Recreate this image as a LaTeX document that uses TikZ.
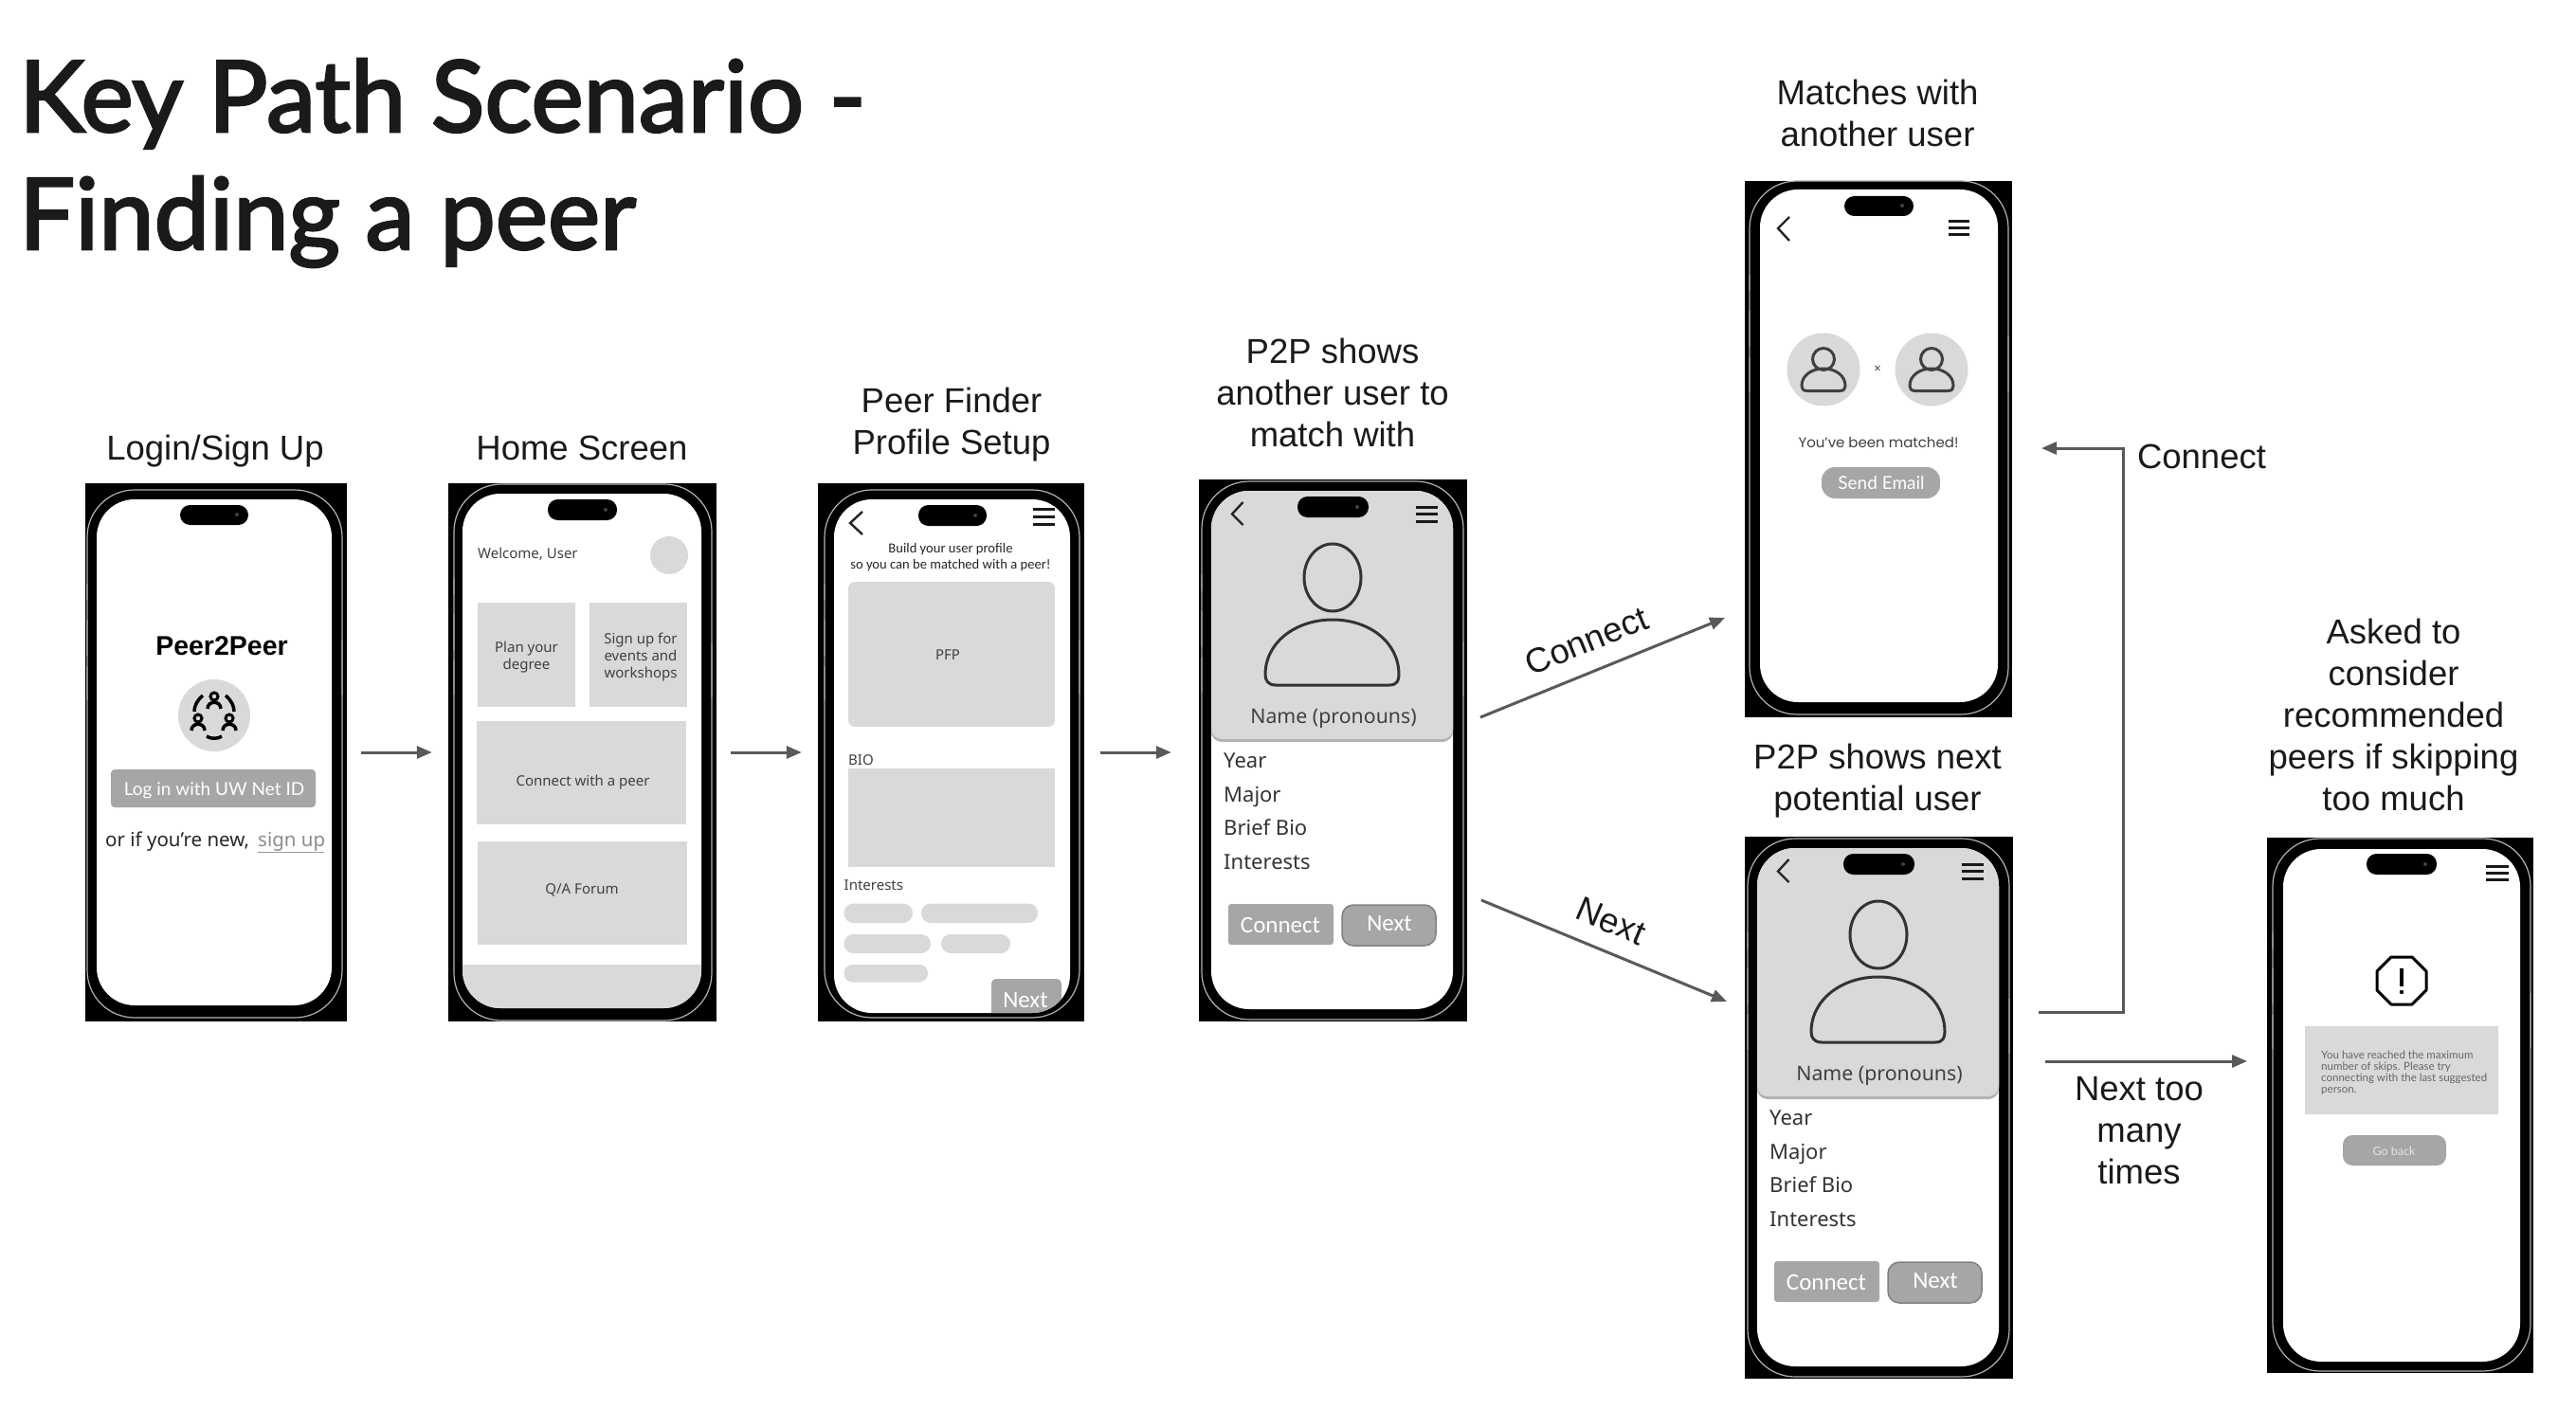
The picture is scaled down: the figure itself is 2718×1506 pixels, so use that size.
\documentclass[tikz,border=0pt]{standalone}
\usepackage{fontspec}
\setmainfont{Liberation Sans}
\newfontfamily\uifont{Noto Sans}
\newfontfamily\carl{Carlito}
\newfontfamily\lat{Lato}
\newfontfamily\pop{Poppins}
\newfontfamily\titlefont[FakeBold=2.5]{Lato}
\usetikzlibrary{arrows.meta,fit,calc}
\definecolor{tile}{HTML}{D9D9D9}
\definecolor{btn}{HTML}{A6A6A6}
\definecolor{arrowc}{HTML}{595959}
\definecolor{labelc}{HTML}{1A1A1A}
\newcommand\fsz[1]{\fontsize{#1}{#1}\selectfont}
\tikzset{
  x=1pt,y=-1pt,
  flow/.style={draw=arrowc,line width=3pt,-{Triangle[length=16pt,width=13pt]}},
  caption/.style={align=center,text=labelc,inner sep=0pt,font=\fontsize{36.5}{44}\selectfont},
  uitext/.style={inner sep=0pt,text=black!75,font=\uifont\fsz{15}},
  rowtext/.style={inner sep=0pt,anchor=base west,text=black!80,font=\uifont\fsz{22}},
  whitebtn/.style={inner sep=0pt,text=white,font=\carl\fsz{25}},
}
% name, frame corners, bezel corners, screen corners
\newcommand\phone[7]{%
  \node[fit={(#2)(#3)},inner sep=0pt,fill=black] (#1) {};
  \draw[black!30,line width=1.2pt,rounded corners=50pt] (#4) rectangle (#5);
  \draw[black!45,line width=2pt] ($(#4)+(0,99)$) -- ($(#4)+(0,116)$) ($(#4)+(0,137)$) -- ($(#4)+(0,175)$) ($(#4)+(0,186)$) -- ($(#4)+(0,222)$) ($(#5)+(0,-399)$) -- ($(#5)+(0,-341)$);
  \fill[white,rounded corners=40pt] (#6) rectangle (#7);
}
\newcommand\island[2]{%
  \fill[black,rounded corners=10.5pt] (#1) rectangle (#2);
  \fill[black!75] ($(#2)+(-12,-11)$) circle (2pt);
}
\newcommand\chevron[3]{\draw[black!85,line width=2.4pt,line join=miter] (#1) -- (#2) -- (#3);}
% x1, x2, y1, y2, y3
\newcommand\burger[5]{\draw[black!90,line width=3pt] (#1,#3) -- (#2,#3) (#1,#4) -- (#2,#4) (#1,#5) -- (#2,#5);}
% prefix: the profile card screen, in the coordinates of the first one
\newcommand\profile[1]{%
  \phone{#1}{1265,506}{1548,1078}{1268,508}{1544,1076}{1278,518}{1533,1065}
  \begin{scope}
    \clip[rounded corners=40pt] (1278,518) rectangle (1533,1065);
    \fill[black!30,rounded corners=11pt] (1278,480) rectangle (1533,783);
    \fill[tile,rounded corners=11pt] (1278,480) rectangle (1533,780);
  \end{scope}
  \island{1369,524}{1444,546}
  \chevron{1311.5,530}{1300,542.5}{1311.5,554}
  \burger{1494}{1517}{535}{542.5}{550}
  \draw[black!80,line width=3pt] (1406,609.5) ellipse (30pt and 35.5pt);
  \draw[black!80,line width=3pt,line join=round] (1346,723) -- (1466,723)
     .. controls (1474,723) and (1476,718) .. (1476,712)
     .. controls (1476,678) and (1445,654) .. (1406,654)
     .. controls (1367,654) and (1335,678) .. (1335,712)
     .. controls (1335,718) and (1338,723) .. (1346,723) -- cycle;
  \node[uitext,font=\uifont\fsz{21.3}] (#1name) at (1407,758) {Name (pronouns)};
  \node[rowtext] (#1year) at (1291,810) {Year};
  \node[rowtext] (#1major) at (1291,846) {Major};
  \node[rowtext] (#1bio) at (1291,881) {Brief Bio};
  \node[rowtext] (#1int) at (1291,917) {Interests};
  \fill[btn,rounded corners=3pt] (1296,954) rectangle (1407,997);
  \node[whitebtn] (#1conn) at (1351,976) {Connect};
  \filldraw[fill=btn,draw=black!50,line width=1.5pt,rounded corners=12pt] (1416,955) rectangle (1515,998);
  \node[whitebtn] (#1next) at (1466,975) {Next};
}
\newcommand\smallperson[1]{%
  \begin{scope}[shift={(#1,390)}]
    \fill[tile] (0,0) circle (38.5pt);
    \draw[black!75,line width=3pt] (0,-11) circle (11.5pt);
    \draw[black!75,line width=3pt,line join=round] (-17,22.5) -- (17,22.5)
      .. controls (22,22.5) and (23,20) .. (23,17)
      .. controls (23,6) and (12,-1) .. (0,-1)
      .. controls (-12,-1) and (-23,6) .. (-23,17)
      .. controls (-23,20) and (-22,22.5) .. (-17,22.5) -- cycle;
  \end{scope}%
}
\newcommand\tinyperson[2]{%
  \draw[black,line width=3pt] (#1,#2) circle (4pt);
  \draw[black,line width=3.5pt] ($(#1,#2)+(-7,13)$) .. controls ($(#1,#2)+(-7,4)$) and ($(#1,#2)+(7,4)$) .. ($(#1,#2)+(7,13)$);
}
\begin{document}
\begin{tikzpicture}
\useasboundingbox (0,0) rectangle (2718,1506);
\fill[white] (0,0) rectangle (2718,1506);

% title
\node[anchor=base west,inner sep=0pt,text=labelc,font=\titlefont\fsz{104.5}] (title1) at (20,139) {Key Path Scenario -};
\node[anchor=base west,inner sep=0pt,text=labelc,font=\titlefont\fsz{104.5}] (title2) at (20,263) {Finding a peer};

% captions
\node[caption] (capa) at (227,476) {Login/Sign Up};
\node[caption] (capb) at (614,473) {Home Screen};
\node[caption] (capc) at (1004,448) {Peer Finder\\Profile Setup};
\node[caption] (capd) at (1406,414) {P2P shows\\another user to\\match with};
\node[caption] (cape) at (1981,119) {Matches with\\another user};
\node[caption] (capf) at (1981,824) {P2P shows next\\potential user};
\node[caption] (capg) at (2525.5,754) {Asked to\\consider\\recommended\\peers if skipping\\too much};

% phone 1
\phone{pa}{90,510}{366,1078}{92,517}{361,1074}{102,527}{350,1061}
\island{190,533}{262,554}
\node[inner sep=0pt,text=black,font=\bfseries\fsz{28.5}] (logo) at (234,682) {Peer2Peer};
\fill[tile] (226,755) circle (38pt);
\tinyperson{226}{735}
\tinyperson{209}{758}
\tinyperson{242}{758}
\draw[black,line width=3.5pt] (205,751) .. controls (205,745) and (208,739) .. (214,734);
\draw[black,line width=3.5pt] (247,751) .. controls (247,745) and (244,739) .. (238,734);
\draw[black,line width=3.5pt] (218,777) .. controls (222,780) and (230,780) .. (234,777);
\fill[btn,rounded corners=4pt] (117,812) rectangle (333,852);
\node[inner sep=0pt,text=white,font=\lat\fsz{19}] (login) at (226,834) {Log in with UW Net ID};
\node[anchor=base west,inner sep=0pt,text=black!85,font=\uifont\fsz{20.5}] (orif) at (111,893) {or if you’re new,};
\node[anchor=base west,inner sep=0pt,text=black!45,font=\uifont\fsz{20.5}] (signup) at (272,893) {sign up};
\draw[black!40,line width=1pt] (signup.base west)++(0,6) -- ++(70,0);

% phone 2
\phone{pb}{473,510}{756,1078}{479,511}{751,1077}{488,521}{740,1064}
\begin{scope}
  \clip[rounded corners=40pt] (488,521) rectangle (740,1064);
  \fill[tile] (488,1018) rectangle (740,1064);
\end{scope}
\island{578,527}{651,549}
\node[uitext,anchor=west] (welcome) at (504,585) {Welcome, User};
\fill[tile] (706,586) circle (20pt);
\fill[tile] (504,636) rectangle (607,746);
\fill[tile] (622,636) rectangle (725,746);
\fill[tile] (503,761) rectangle (724,870);
\fill[tile] (504,888) rectangle (725,997);
\node[uitext,align=center,font=\uifont\fontsize{15}{18}\selectfont] (plan) at (555.5,694) {Plan your\\degree};
\node[uitext,align=center,font=\uifont\fontsize{15}{18}\selectfont] (events) at (676,694) {Sign up for\\events and\\workshops};
\node[uitext] (connectpeer) at (615,826) {Connect with a peer};
\node[uitext] (forum) at (614,939) {Q/A Forum};

% phone 3
\phone{pc}{863,510}{1144,1078}{870,517}{1139,1074}{880,527}{1129,1069}
\begin{scope}
  \clip[rounded corners=40pt] (880,527) rectangle (1129,1069);
  \fill[btn,rounded corners=5pt] (1046,1033) rectangle (1120,1090);
\end{scope}
\island{969,533}{1041,555}
\chevron{910,540}{897,552}{910,564}
\burger{1090}{1113}{537}{545}{553}
\node[inner sep=0pt,align=center,text=black!85,font=\carl\fontsize{14.6}{17}\selectfont] (build) at (1003,588.5) {Build your user profile\\so you can be matched with a peer!};
\fill[tile,rounded corners=7pt] (895,614) rectangle (1113,767);
\node[uitext] (pfp) at (1000,691) {PFP};
\node[uitext,anchor=west] (biolabel) at (895,802) {BIO};
\fill[tile] (895,811) rectangle (1113,915);
\node[uitext,anchor=west] (interests) at (890.5,934) {Interests};
\fill[tile,rounded corners=10pt] (890.5,953.5) rectangle (963,974);
\fill[tile,rounded corners=10pt] (972,953.5) rectangle (1095,974);
\fill[tile,rounded corners=10pt] (890.5,986) rectangle (982,1006);
\fill[tile,rounded corners=10pt] (993,986) rectangle (1066,1006);
\fill[tile,rounded corners=9pt] (890.5,1018) rectangle (979,1036.5);
\node[whitebtn] (nextc) at (1082,1056) {Next};

% phone 4 and the next-user phone, which shows the same card
\profile{pd}
\begin{scope}[shift={(576,377)}]
\profile{pf}
\end{scope}

% phone 5
\phone{pe}{1841,191}{2123,757}{1846,191}{2119,754}{1857,200}{2108,741}
\island{1946,207}{2019,228}
\chevron{1888,229}{1876,241}{1888,254}
\burger{2056}{2078}{234}{241}{248}
\smallperson{1924}
\smallperson{2038}
\node[inner sep=0pt,text=black!75,font=\uifont\fsz{13}] (times) at (1981,390) {×};
\node[inner sep=0pt,text=black!75,font=\pop\fsz{15}] (matched) at (1982,467) {You’ve been matched!};
\fill[btn,rounded corners=14pt] (1922,493) rectangle (2047,526);
\node[inner sep=0pt,text=white,font=\lat\fsz{19}] (sendemail) at (1985,510) {Send Email};

% phone 7
\phone{pg}{2392,884}{2673,1449}{2398,885}{2670,1447}{2409,896}{2659,1437}
\island{2497,901}{2571,923}
\burger{2623}{2647}{914}{921}{928}
\draw[black,line width=3pt,line join=round] (2523,1010) -- (2545,1010) -- (2560,1025) -- (2560,1045) -- (2545,1060) -- (2523,1060) -- (2508,1045) -- (2508,1025) -- cycle;
\draw[black,line width=3.5pt] (2534,1022) -- (2534,1041);
\fill[black] (2534,1047) circle (2.2pt);
\fill[tile] (2432,1083) rectangle (2636,1176);
\node[anchor=north west,inner sep=0pt,align=left,text=black!60,font=\lat\fontsize{11.5}{11.8}\selectfont] (skips) at (2449,1109) {You have reached the maximum\\number of skips. Please try\\connecting with the last suggested\\person.};
\fill[btn,rounded corners=10pt] (2472,1198) rectangle (2581,1230);
\node[inner sep=0pt,text=white!90!black,font=\lat\fsz{12.5}] (goback) at (2526,1215) {Go back};

% connectors
\coordinate (connfrom) at (1562,757);
\coordinate (connto) at (1820,652);
\coordinate (nextfrom) at (1563,950);
\coordinate (nextto) at (1822,1057);
\coordinate (backfrom) at (2151,1068);
\coordinate (backcornera) at (2240,1068);
\coordinate (backcornerb) at (2240,473);
\coordinate (backto) at (2154,473);
\coordinate (toomanyfrom) at (2158,1120);
\coordinate (toomanyto) at (2371,1120);
\draw[flow,shorten <=15pt,shorten >=17pt] (pa.east |- 0,794) -- (pb.west |- 0,794);
\draw[flow,shorten <=15pt,shorten >=17pt] (pb.east |- 0,794) -- (pc.west |- 0,794);
\draw[flow,shorten <=17pt,shorten >=29pt] (pc.east |- 0,794) -- (pd.west |- 0,794);
\draw[flow] (connfrom) -- (connto);
\draw[flow] (nextfrom) -- (nextto);
\draw[flow] (backfrom) -- (backcornera) -- (backcornerb) -- (backto);
\draw[flow] (toomanyfrom) -- (toomanyto);

% connector labels
\node[caption,rotate=22] (lconn) at (1674,676) {Connect};
\node[caption,rotate=-23] (lnext) at (1700,972) {Next};
\node[caption] (lback) at (2323,482) {Connect};
\node[caption] (lmany) at (2257,1193) {Next too\\many\\times};
\end{tikzpicture}
\end{document}
